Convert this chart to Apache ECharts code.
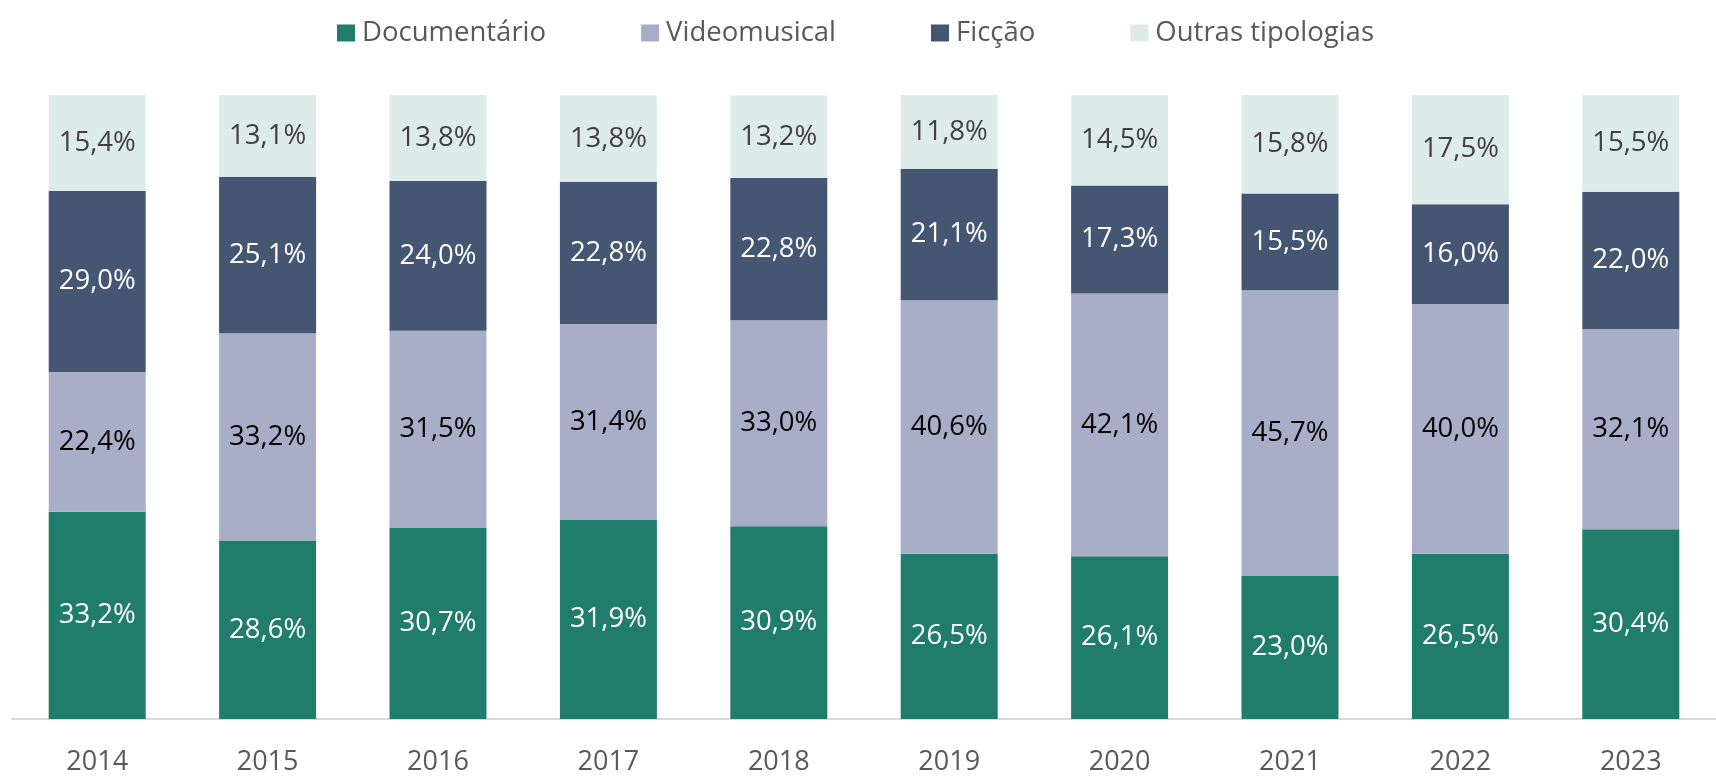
<!DOCTYPE html>
<html>
<head>
<meta charset="utf-8">
<script src="https://cdn.jsdelivr.net/npm/echarts@6/dist/echarts.min.js"></script>
<style>
  html, body { margin: 0; padding: 0; background: #fff; }
  #chart { width: 1716px; height: 776px; }
</style>
</head>
<body>
<div id="chart"></div>
<script>
// anos e percentagens por tipologia
const years = ['2014', '2015', '2016', '2017', '2018', '2019', '2020', '2021', '2022', '2023'];
const documentario = [33.2, 28.6, 30.7, 31.9, 30.9, 26.5, 26.1, 23.0, 26.5, 30.4];
const videomusical = [22.4, 33.2, 31.5, 31.4, 33.0, 40.6, 42.1, 45.7, 40.0, 32.1];
const ficcao = [29.0, 25.1, 24.0, 22.8, 22.8, 21.1, 17.3, 15.5, 16.0, 22.0];
const outras = [15.4, 13.1, 13.8, 13.8, 13.2, 11.8, 14.5, 15.8, 17.5, 15.5];

const FONT = '"Open Sans", "Noto Sans", sans-serif';

const pct = (p) => p.value.toFixed(1).replace('.', ',') + '%';

const makeSeries = (name, data, color, labelColor) => ({
    name,
    type: 'bar',
    stack: 'total',
    data,
    barWidth: 97,
    itemStyle: { color },
    label: {
        show: true,
        position: 'inside',
        formatter: pct,
        color: labelColor,
        fontFamily: FONT,
        fontSize: 27.5
    }
});

const chart = echarts.init(document.getElementById('chart'), null, { renderer: 'canvas' });

chart.setOption({
    animation: false,
    legend: {
        left: 332,
        top: 14,
        icon: 'rect',
        itemWidth: 18,
        itemHeight: 17,
        itemGap: 95,
        textStyle: { fontFamily: FONT, fontSize: 27.5, color: '#595959', padding: [0, 0, 0, 2] },
        data: ['Documentário', 'Videomusical', 'Ficção', 'Outras tipologias']
    },
    grid: { left: 12, right: -18, top: 95, bottom: 56 },
    xAxis: {
        type: 'category',
        data: years,
        axisLine: { lineStyle: { color: '#D9D9D9', width: 2 } },
        axisTick: { show: false },
        axisLabel: { fontFamily: FONT, fontSize: 27, color: '#595959', margin: 30 }
    },
    yAxis: {
        type: 'value',
        min: 0,
        max: 100,
        show: false,
        splitLine: { show: false }
    },
    series: [
        makeSeries('Documentário', documentario, '#217D6B', '#FFFFFF'),
        makeSeries('Videomusical', videomusical, '#A8ADC8', '#000000'),
        makeSeries('Ficção', ficcao, '#455673', '#FFFFFF'),
        makeSeries('Outras tipologias', outras, '#DDECE8', '#404040')
    ]
});
</script>
</body>
</html>
